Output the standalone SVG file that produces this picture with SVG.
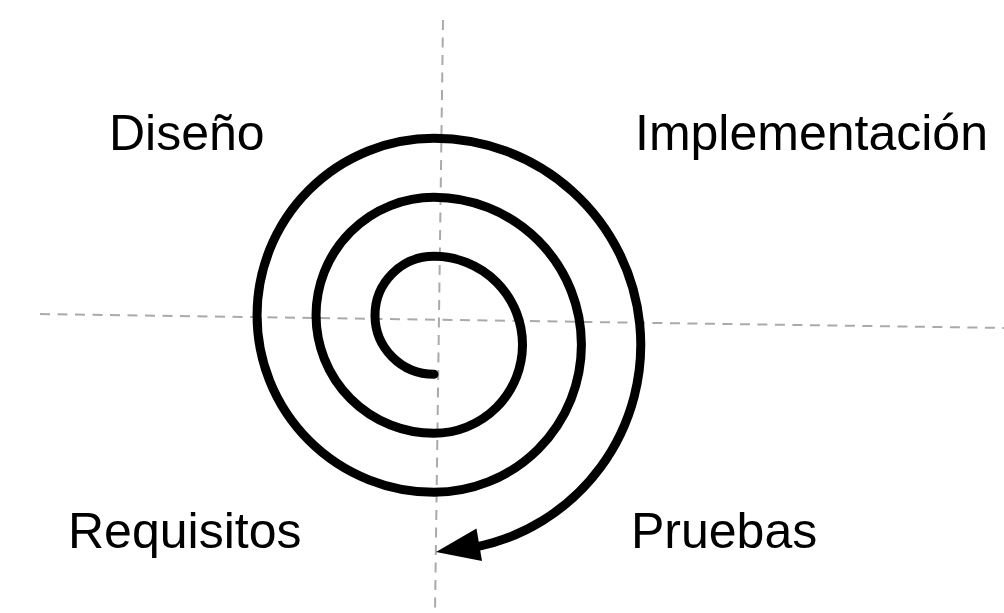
<svg xmlns="http://www.w3.org/2000/svg" width="1004" height="613" viewBox="0 0 1004 613">
  <style>
    .axis { stroke: #aaaaaa; stroke-width: 2; stroke-dasharray: 10 7.5; fill: none; }
    .spiral { stroke: #000000; stroke-width: 9; fill: none; stroke-linecap: round; stroke-linejoin: round; }
    .head { fill: #000000; stroke: none; }
    .label { font-family: "Liberation Sans", Arial, Helvetica, sans-serif; font-size: 50px; fill: #000000; }
  </style>
  <rect x="0" y="0" width="1004" height="613" fill="#ffffff"/>
  <g id="axes">
    <line class="axis" x1="443" y1="20" x2="435" y2="613"/>
    <line class="axis" x1="40" y1="314" x2="1004" y2="328"/>
  </g>
  <g id="connectors">
    <path class="spiral" d="M434,374.3 A59,59 0 0 1 434,256.3 A88.5,88.5 0 0 1 434,433.3 A118,118 0 0 1 434,197.3 A147.5,147.5 0 0 1 434,492.3 A177,177 0 0 1 434,138.3 A206.5,206.5 0 0 1 475.2,547.2"/>
    <polygon class="head" points="436,552 476.5,528.5 482,561"/>
  </g>
  <g id="node-diseno">
    <text class="label" x="109" y="150">Diseño</text>
  </g>
  <g id="node-implementacion">
    <text class="label" x="635" y="149.5">Implementación</text>
  </g>
  <g id="node-requisitos">
    <text class="label" x="68" y="548">Requisitos</text>
  </g>
  <g id="node-pruebas">
    <text class="label" x="631" y="548">Pruebas</text>
  </g>
</svg>
